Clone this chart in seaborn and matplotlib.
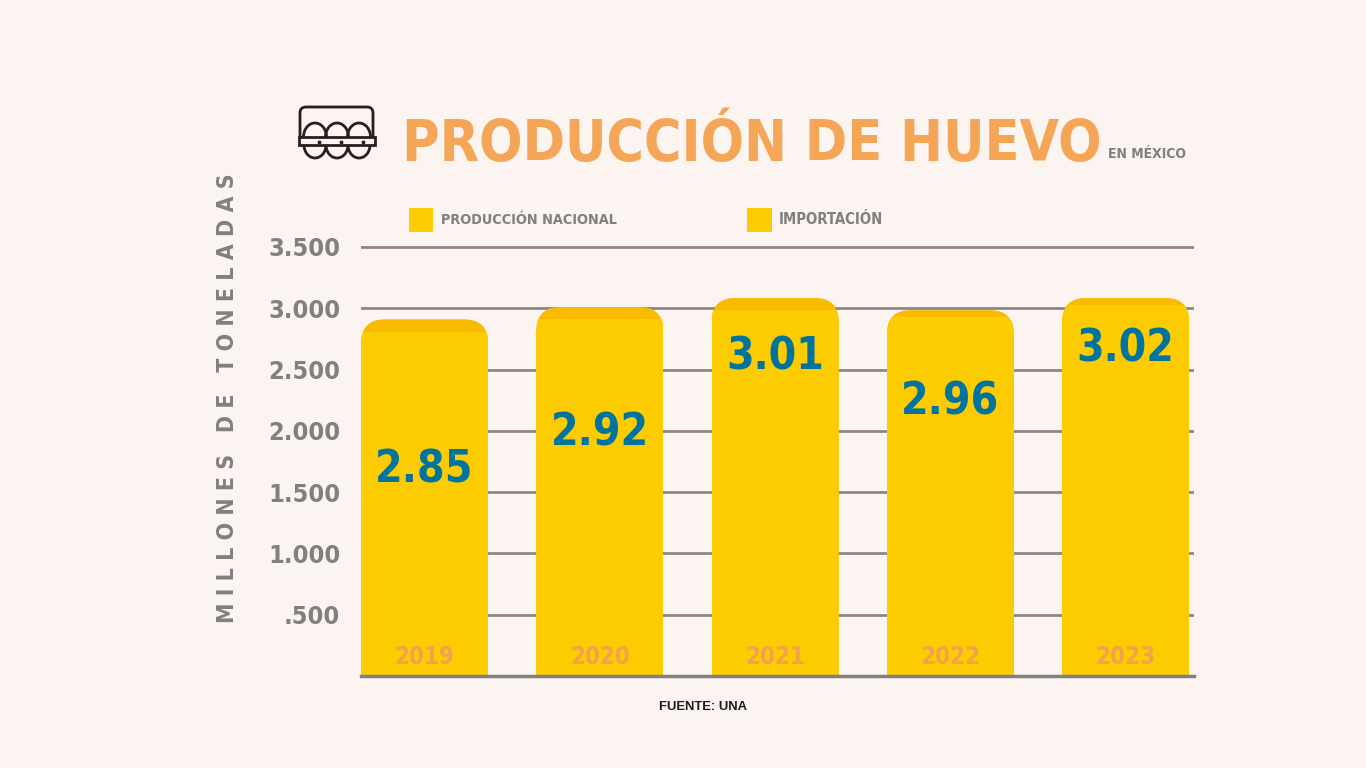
import os
import numpy as np
import pandas as pd
import matplotlib
matplotlib.use("Agg")
import matplotlib.pyplot as plt
import seaborn as sns
from matplotlib import font_manager as fm
from matplotlib.patches import FancyBboxPatch, Rectangle, Arc, PathPatch
from matplotlib.path import Path
from matplotlib.transforms import IdentityTransform

# ---------------- data ----------------
years = ["2019", "2020", "2021", "2022", "2023"]
produccion = [2810, 2910, 2990, 2930, 3030]
importacion = [100, 100, 95, 55, 55]
etiquetas = ["2.85", "2.92", "3.01", "2.96", "3.02"]
ytick_values = [500, 1000, 1500, 2000, 2500, 3000, 3500]
ytick_labels = [".500", "1.000", "1.500", "2.000", "2.500", "3.000", "3.500"]
legend_labels = ["PRODUCCIÓN NACIONAL", "IMPORTACIÓN"]

# ---------------- layout / style ----------------
BG = "#FCF4F1"
C_PROD = "#FCCC00"
C_IMP = "#F9BA00"
C_TITLE = "#F4A556"
C_YEAR = "#F2A24E"
C_GRAY = "#808080"
C_BLUE = "#00749E"
LABEL_Y = [1680, 1985, 2600, 2235, 2670]   # vertical placement of the value labels
YEAR_Y = 155
BAR_W = 0.725

sns.set_theme(style="white")

# ---- look for an upright condensed / narrow bold face ----
cond_path = None
try:
    files = fm.findSystemFonts()
except Exception:
    files = []


def ok_name(name):
    return (name.endswith(".ttf") or name.endswith(".otf")) and \
        "italic" not in name and "oblique" not in name


low = {os.path.basename(f).lower(): f for f in files if ok_name(os.path.basename(f).lower())}
prefs = ["liberationsansnarrow-bold.ttf", "dejavusanscondensed-bold.ttf",
         "robotocondensed-bold.ttf", "opensans_condensed-bold.ttf",
         "opensanscondensed-bold.ttf", "notosans-condensedbold.ttf"]
for p in prefs:
    if p in low:
        cond_path = low[p]
        break
if cond_path is None:
    for name, f in sorted(low.items()):
        if ("condensed" in name or "narrow" in name) and "bold" in name and "semi" not in name:
            cond_path = f
            break

if cond_path:
    FP = fm.FontProperties(fname=cond_path)
else:
    FP = fm.FontProperties(family="DejaVu Sans", weight="bold")

plt.rcParams["font.family"] = ["DejaVu Sans"]

df = pd.DataFrame({"year": years, "produccion": produccion, "importacion": importacion})
df["total"] = df["produccion"] + df["importacion"]

W, H = 1366, 768
fig = plt.figure(figsize=(W / 100, H / 100), dpi=100, facecolor=BG)

ppu = (676 - 247) / 3500.0
ytop = 3520
top_px = 676 - ytop * ppu
ax = fig.add_axes([361 / W, (H - 676) / H, (1194 - 361) / W, (676 - top_px) / H])
ax.set_facecolor(BG)

sns.barplot(data=df, x="year", y="total", order=years, color=C_IMP, saturation=1,
            width=BAR_W, linewidth=0, ax=ax, zorder=3)
sns.barplot(data=df, x="year", y="produccion", order=years, color=C_PROD, saturation=1,
            width=BAR_W, linewidth=0, ax=ax, zorder=3)

ax.set_xlim(-0.363, 4.39)
ax.set_ylim(0, ytop)
ax.set_yticks(ytick_values)
ax.set_yticklabels(ytick_labels)
ax.yaxis.grid(True, color="#8C8787", linewidth=2)
ax.set_axisbelow(True)
ax.set_xticks([])
ax.set_xlabel("")
ax.set_ylabel("")
for s in ["top", "right", "left"]:
    ax.spines[s].set_visible(False)
ax.spines["bottom"].set_color("#7F7F7F")
ax.spines["bottom"].set_linewidth(2.5)
ax.spines["bottom"].set_zorder(5)

# overlay for decorations
oax = fig.add_axes([0, 0, 1, 1], facecolor="none")
oax.set_xlim(0, W)
oax.set_ylim(H, 0)
oax.axis("off")

renderer = fig.canvas.get_renderer()


def fp(size):
    f = FP.copy()
    f.set_size(size)
    return f


def fit(t, target, dim="w"):
    bb = t.get_window_extent(renderer)
    cur = bb.width if dim == "w" else bb.height
    t.set_fontsize(t.get_fontsize() * target / cur)
    return t


def ctext(a, x, y, s, target, dim="w", **kw):
    t = a.text(x, y, s, fontproperties=fp(20), **kw)
    return fit(t, target, dim)


# tick labels
tmp = oax.text(0, 0, "3.500", fontproperties=fp(20))
tsize = 20 * 72 / tmp.get_window_extent(renderer).width
tmp.remove()
ax.tick_params(axis="y", length=0, pad=15, labelcolor=C_GRAY)
for lb in ax.get_yticklabels():
    lb.set_fontproperties(fp(tsize))
    lb.set_color(C_GRAY)

# value labels
for i, (lab, yy) in enumerate(zip(etiquetas, LABEL_Y)):
    ctext(ax, i, yy, lab, 98, ha="center", va="center", color=C_BLUE, zorder=6)

# year labels
for i, yr in enumerate(years):
    ctext(ax, i, YEAR_Y, yr, 60, ha="center", va="center", color=C_YEAR, zorder=6)

# title
title = ctext(oax, 402, 161, "PRODUCCIÓN DE HUEVO", 698, ha="left", va="baseline",
              color=C_TITLE)
tb = title.get_window_extent(renderer)
ctext(oax, tb.x1 + 6, 158, "EN MÉXICO", 78, ha="left", va="baseline", color=C_GRAY)

# y label
ctext(oax, 228, 398, "M I L L O N E S   D E   T O N E L A D A S", 447, dim="h",
      rotation=90, ha="center", va="center", color=C_GRAY)

# legend
oax.add_patch(Rectangle((409, 208), 24, 24, color=C_PROD, lw=0))
oax.add_patch(Rectangle((747, 208), 25, 24, color=C_PROD, lw=0))
ctext(oax, 441, 220, legend_labels[0], 177, ha="left", va="center", color=C_GRAY)
ctext(oax, 779, 220, legend_labels[1], 104, ha="left", va="center", color=C_GRAY)

# source
src = oax.text(703, 707, "FUENTE: UNA", ha="center", va="center", color="#1A1A1A",
               weight="bold", fontsize=10, family=["Liberation Sans", "DejaVu Sans"])
fit(src, 88)

# egg carton icon
ic = "#2B1D1A"
lw = 2.0
lid = Path([(300, 137), (300, 113), (300, 107), (306, 107), (367, 107), (373, 107),
            (373, 113), (373, 137)],
           [Path.MOVETO, Path.LINETO, Path.CURVE3, Path.CURVE3, Path.LINETO,
            Path.CURVE3, Path.CURVE3, Path.LINETO])
oax.add_patch(PathPatch(lid, fill=False, ec=ic, lw=lw))
oax.add_patch(Rectangle((299, 137), 76, 8, fill=False, ec=ic, lw=lw))
for cx in (315, 337, 359):
    oax.add_patch(Arc((cx, 137), 23, 28, theta1=180, theta2=360, ec=ic, lw=lw))
    oax.add_patch(Arc((cx, 145), 22, 26, theta1=0, theta2=180, ec=ic, lw=lw))
    oax.plot([cx + 4], [141.5], marker="o", ms=1.8, color=ic)

# rounded tops on bars
fig.canvas.draw()
for i in range(len(years)):
    x0, _ = ax.transData.transform((i - BAR_W / 2, 0))
    x1, _ = ax.transData.transform((i + BAR_W / 2, 0))
    _, yt = ax.transData.transform((i, df["total"][i]))
    yb = yt - 2000
    clip = FancyBboxPatch((x0, yb), x1 - x0, yt - yb,
                          boxstyle="round,pad=0,rounding_size=24",
                          transform=IdentityTransform())
    for cont in ax.containers[:2]:
        cont[i].set_clip_path(clip)

fig.savefig("out.png", dpi=100, facecolor=BG)
